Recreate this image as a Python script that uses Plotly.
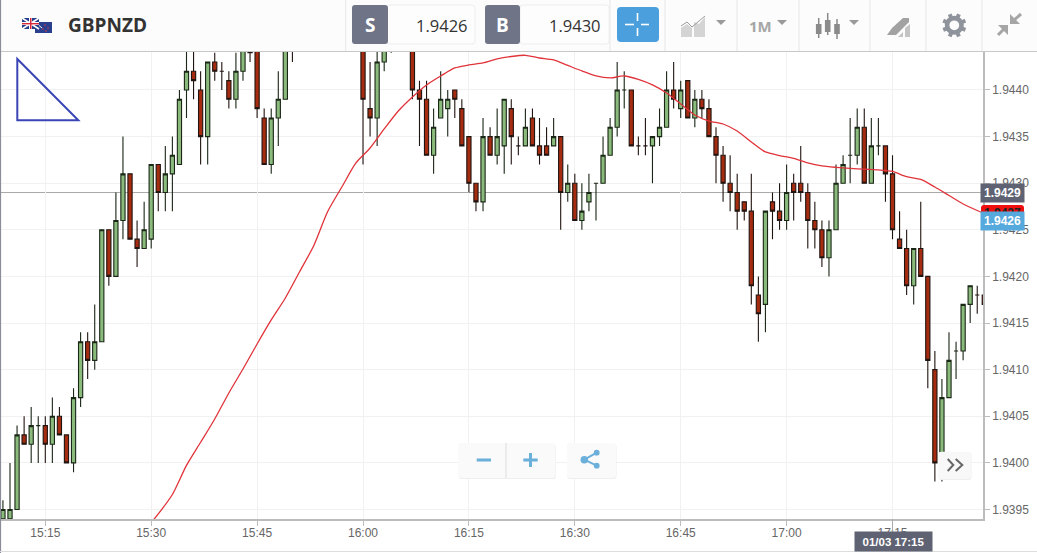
import plotly.graph_objects as go
import math

DAY = "2019-01-03 "
times = ["15:09","15:10","15:11","15:12","15:13","15:14","15:15","15:16","15:17","15:18",
 "15:19","15:20","15:21","15:22","15:23","15:24","15:25","15:26","15:27","15:28",
 "15:29","15:30","15:31","15:32","15:33","15:34","15:35","15:36","15:37","15:38",
 "15:39","15:40","15:41","15:42","15:43","15:44","15:45","15:46","15:47","15:48",
 "15:49","15:50",
 "16:00","16:01","16:02","16:03","16:04",
 "16:07","16:08","16:09","16:10","16:11","16:12","16:13","16:14",
 "16:15","16:16","16:17","16:18","16:19","16:20","16:21","16:22","16:23","16:24",
 "16:25","16:26","16:27","16:28","16:29","16:30","16:31","16:32","16:33","16:34",
 "16:35","16:36","16:37","16:38","16:39","16:40","16:41","16:42","16:43","16:44",
 "16:45","16:46","16:47","16:48","16:49","16:50","16:51","16:52","16:53","16:54",
 "16:55","16:56","16:57","16:58","16:59","17:00","17:01","17:02","17:03","17:04",
 "17:05","17:06","17:07","17:08","17:09","17:10","17:11","17:12","17:13","17:14",
 "17:15","17:16","17:17","17:18","17:19","17:20","17:21","17:22","17:23","17:24",
 "17:25","17:26","17:27","17:28"]
opens = [1.9394,1.9394,1.9395,1.9403,1.9402,1.9404,1.9404,1.9402,1.9405,1.9403,
 1.9400,1.9407,1.9413,1.9411,1.9413,1.9425,1.9420,1.9426,1.9431,1.9424,
 1.9423,1.9424,1.9432,1.9429,1.9431,1.9432,1.9440,1.9442,1.9440,1.9435,
 1.9443,1.9442,1.9441,1.9439,1.9442,1.9445,1.9446,1.9437,1.9432,1.9437,
 1.9439,1.9446,
 1.9446,1.9438,1.9437,1.9443,1.9445,
 1.9446,1.9440,1.9439,1.9433,1.9437,1.9438,1.9440,1.9438,
 1.9435,1.9430,1.9428,1.9435,1.9433,1.9434,1.9438,1.9434,1.9434,1.9437,
 1.9434,1.9434,1.9434,1.9435,1.9429,1.9430,1.9426,1.9428,1.9430,1.9430,
 1.9433,1.9436,1.9440,1.9440,1.9434,1.9434,1.9434,1.9435,1.9436,1.9440,
 1.9438,1.9441,1.9437,1.9439,1.9438,1.9435,1.9433,1.9430,1.9429,1.9428,
 1.9427,1.9418,1.9417,1.9428,1.9427,1.9426,1.9430,1.9430,1.9429,1.9426,
 1.9425,1.9422,1.9425,1.9430,1.9433,1.9433,1.9436,1.9430,1.9434,1.9434,
 1.9431,1.9424,1.9423,1.9419,1.9423,1.9420,1.9410,1.9400,1.9407,1.9412,
 1.9412,1.9417,1.9418,1.9418]
highs = [1.9396,1.9400,1.9404,1.9405,1.9406,1.9405,1.9405,1.9407,1.9406,1.9403,
 1.9408,1.9414,1.9414,1.9417,1.9425,1.9425,1.9429,1.9435,1.9431,1.9426,
 1.9428,1.9432,1.9432,1.9434,1.9435,1.9440,1.9446,1.9446,1.9442,1.9443,
 1.9444,1.9443,1.9442,1.9444,1.9446,1.9446,1.9446,1.9438,1.9438,1.9442,
 1.9446,1.9447,
 1.9447,1.9443,1.9445,1.9446,1.9446,
 1.9447,1.9441,1.9441,1.9438,1.9442,1.9440,1.9440,1.9439,
 1.9435,1.9430,1.9437,1.9436,1.9438,1.9439,1.9439,1.9435,1.9438,1.9438,
 1.9437,1.9436,1.9437,1.9435,1.9432,1.9431,1.9430,1.9431,1.9430,1.9435,
 1.9437,1.9443,1.9442,1.9440,1.9435,1.9437,1.9435,1.9438,1.9442,1.9443,
 1.9441,1.9441,1.9440,1.9440,1.9439,1.9436,1.9434,1.9433,1.9431,1.9428,
 1.9431,1.9420,1.9427,1.9429,1.9430,1.9432,1.9431,1.9434,1.9430,1.9428,
 1.9426,1.9426,1.9432,1.9433,1.9437,1.9438,1.9438,1.9437,1.9437,1.9434,
 1.9433,1.9427,1.9425,1.9423,1.9428,1.9420,1.9412,1.9409,1.9414,1.9413,
 1.9417,1.9419,1.9419,1.9418]
lows = [1.9394,1.9394,1.9395,1.9402,1.9400,1.9400,1.9400,1.9400,1.9403,1.9400,
 1.9399,1.9406,1.9409,1.9410,1.9413,1.9419,1.9420,1.9424,1.9424,1.9421,
 1.9423,1.9423,1.9427,1.9427,1.9427,1.9432,1.9437,1.9439,1.9432,1.9432,
 1.9441,1.9440,1.9438,1.9438,1.9441,1.9443,1.9437,1.9432,1.9431,1.9434,
 1.9439,1.9443,
 1.9432,1.9435,1.9434,1.9442,1.9444,
 1.9439,1.9434,1.9433,1.9431,1.9437,1.9435,1.9437,1.9434,
 1.9429,1.9427,1.9427,1.9433,1.9432,1.9431,1.9432,1.9433,1.9434,1.9434,
 1.9432,1.9433,1.9434,1.9425,1.9428,1.9426,1.9425,1.9427,1.9426,1.9430,
 1.9433,1.9435,1.9438,1.9434,1.9433,1.9433,1.9430,1.9434,1.9436,1.9438,
 1.9437,1.9437,1.9436,1.9437,1.9435,1.9430,1.9428,1.9427,1.9425,1.9426,
 1.9417,1.9413,1.9414,1.9424,1.9425,1.9425,1.9426,1.9428,1.9423,1.9423,
 1.9421,1.9420,1.9425,1.9430,1.9430,1.9432,1.9430,1.9430,1.9433,1.9428,
 1.9424,1.9423,1.9418,1.9417,1.9420,1.9408,1.9398,1.9398,1.9407,1.9409,
 1.9411,1.9415,1.9416,1.9417]
closes = [1.9395,1.9395,1.9403,1.9402,1.9404,1.9404,1.9402,1.9405,1.9403,1.9400,
 1.9407,1.9413,1.9411,1.9413,1.9425,1.9420,1.9426,1.9431,1.9424,1.9423,
 1.9425,1.9432,1.9429,1.9431,1.9433,1.9439,1.9442,1.9441,1.9435,1.9443,
 1.9442,1.9442,1.9439,1.9442,1.9445,1.9444,1.9438,1.9432,1.9437,1.9439,
 1.9445,1.9445,
 1.9439,1.9437,1.9443,1.9445,1.9445,
 1.9440,1.9439,1.9433,1.9436,1.9439,1.9439,1.9439,1.9434,
 1.9430,1.9428,1.9435,1.9433,1.9435,1.9439,1.9435,1.9434,1.9436,1.9434,
 1.9433,1.9433,1.9435,1.9429,1.9430,1.9426,1.9427,1.9429,1.9430,1.9433,
 1.9436,1.9440,1.9440,1.9434,1.9434,1.9434,1.9435,1.9436,1.9440,1.9439,
 1.9440,1.9437,1.9439,1.9438,1.9435,1.9433,1.9430,1.9429,1.9427,1.9427,
 1.9419,1.9416,1.9427,1.9427,1.9426,1.9429,1.9429,1.9429,1.9426,1.9425,
 1.9422,1.9425,1.9430,1.9432,1.9433,1.9436,1.9430,1.9434,1.9434,1.9431,
 1.9425,1.9423,1.9419,1.9423,1.9420,1.9411,1.9400,1.9407,1.9411,1.9412,
 1.9417,1.9419,1.9418,1.9417]

ma_times = ["15:30","15:31","15:33","15:35","15:37","15:39","15:41","15:43","15:45","15:47","15:49",
 "15:51","15:53","15:55","15:57","15:59","16:01","16:03","16:05","16:07","16:09",
 "16:11","16:13","16:15","16:17","16:19","16:21","16:23","16:25","16:27","16:29",
 "16:31","16:33","16:35","16:37","16:39","16:41","16:43","16:45","16:47","16:49",
 "16:51","16:53","16:55","16:57","16:59","17:01","17:03","17:05","17:07","17:09",
 "17:11","17:13","17:15","17:17","17:19","17:21","17:23","17:25","17:27","17:28"]
ma_values = [1.939360,1.939452,1.939661,1.939973,1.940221,1.940471,1.940750,1.941007,1.941275,1.941533,1.941769,
 1.942048,1.942327,1.942697,1.942959,1.943217,1.943378,1.943582,1.943775,1.943925,1.944054,
 1.944150,1.944236,1.944268,1.944290,1.944333,1.944359,1.944372,1.944343,1.944322,1.944263,
 1.944204,1.944150,1.944129,1.944150,1.944113,1.944054,1.943968,1.943850,1.943732,1.943667,
 1.943635,1.943560,1.943442,1.943335,1.943297,1.943265,1.943217,1.943185,1.943170,1.943159,
 1.943150,1.943142,1.943126,1.943070,1.943040,1.942959,1.942868,1.942777,1.942707,1.942675]

y_ticks = [1.9395,1.9400,1.9405,1.9410,1.9415,1.9420,1.9425,1.9430,1.9435,1.9440]
symbol = "GBPNZD"
sell_price = "1.9426"
buy_price = "1.9430"
crosshair_time = "17:15"
crosshair_price = 1.9429
last_price = 1.9427

W, H = 1037, 553
FONT = "Liberation Sans"
HEAD = "Open Sans"

fig = go.Figure()
fig.add_trace(go.Candlestick(
    x=[DAY + t for t in times], open=opens, high=highs, low=lows, close=closes,
    increasing=dict(line=dict(color="#1a2616", width=1.1), fillcolor="#8bbb7c"),
    decreasing=dict(line=dict(color="#201410", width=1.1), fillcolor="#a52c10"),
    whiskerwidth=0, showlegend=False, hoverinfo="skip"))
fig.add_trace(go.Scatter(
    x=[DAY + t for t in ma_times], y=ma_values, mode="lines",
    line=dict(color="#e0333a", width=1.3, shape="spline", smoothing=0.7),
    showlegend=False, hoverinfo="skip"))

shapes, notes = [], []

def S(**k):
    k.setdefault("xref", "x2"); k.setdefault("yref", "y2")
    shapes.append(k)

def rect(x0, y0, x1, y1, fill, line=None, lw=1):
    S(type="rect", x0=x0, y0=y0, x1=x1, y1=y1, fillcolor=fill,
      line=dict(color=line or fill, width=lw if line else 0))

def seg(x0, y0, x1, y1, color, lw=1):
    S(type="line", x0=x0, y0=y0, x1=x1, y1=y1, line=dict(color=color, width=lw))

def rrect(x0, y0, x1, y1, r, fill, line=None, lw=1):
    p = (f"M{x0+r},{y0} L{x1-r},{y0} Q{x1},{y0} {x1},{y0+r} L{x1},{y1-r} Q{x1},{y1} {x1-r},{y1} "
         f"L{x0+r},{y1} Q{x0},{y1} {x0},{y1-r} L{x0},{y0+r} Q{x0},{y0} {x0+r},{y0} Z")
    S(type="path", path=p, fillcolor=fill, line=dict(color=line or fill, width=lw if line else 0))

def poly(pts, fill, line=None, lw=1, close=True):
    p = "M" + " L".join(f"{a},{b}" for a, b in pts) + (" Z" if close else "")
    S(type="path", path=p, fillcolor=fill, line=dict(color=line or fill, width=lw if line else 0))

def circ(cx, cy, r, fill, line=None, lw=1):
    S(type="circle", x0=cx-r, y0=cy-r, x1=cx+r, y1=cy+r, fillcolor=fill,
      line=dict(color=line or fill, width=lw if line else 0))

def T(x, y, text, size, color, anchor="center", family=HEAD, bold=False, **k):
    notes.append(dict(xref="x2", yref="y2", x=x, y=y, text=f"<b>{text}</b>" if bold else text,
                      showarrow=False, xanchor=anchor, yanchor="middle",
                      font=dict(size=size, color=color, family=family), **k))

# crosshair (sits beneath the candles)
S(type="line", xref="paper", yref="y", x0=0, x1=983/W, y0=crosshair_price, y1=crosshair_price,
  line=dict(color="#a9a9a9", width=1), layer="below")
S(type="line", xref="x", yref="y", x0=DAY + crosshair_time, x1=DAY + crosshair_time,
  y0=1.939398, y1=1.944418, line=dict(color="#a9a9a9", width=1), layer="below")
# crosshair stub between axis and the date tag
S(type="line", xref="x", yref="y2", x0=DAY + crosshair_time, x1=DAY + crosshair_time, y0=519, y1=532,
  line=dict(color="#a9a9a9", width=1))

# drawn triangle on the chart
poly([(17.3, 59), (17.3, 120.3), (78.3, 120.3)], "rgba(0,0,0,0)", "#3a45b5", 2)

# header band
rect(0, 0, W, 51, "#fcfcfc")
seg(0, 51.5, W, 51.5, "#c8c8c8", 1)
seg(0.5, 0, 0.5, H, "#8a8d99", 1.2)
seg(0, 551.5, W, 551.5, "#dddddd", 1)
for sx in [345.7, 610, 665, 737, 799, 870, 926, 982]:
    seg(sx, 0, sx, 51, "#e6e6e6", 1)

# flags
rect(35, 22, 52, 33, "#2b3f8f")
for fx, fy in [(45, 25), (48, 28), (43, 29), (46, 31)]:
    circ(fx, fy, 0.8, "#d8404a")
seg(36, 23, 42, 28, "#ffffff", 1)
rect(22, 18, 39, 29, "#27408b")
seg(22, 18, 39, 29, "#ffffff", 1.5)
seg(39, 18, 22, 29, "#ffffff", 1.5)
rect(29, 18, 32, 29, "#ffffff")
rect(22, 22, 39, 25, "#ffffff")
rect(30, 18, 31.5, 29, "#d62a3c")
rect(22, 23, 39, 24.4, "#d62a3c")
T(66, 25, symbol, 19, "#333333", "left", bold=True)

# sell / buy boxes
rrect(387, 5, 475, 44, 3, "#fdfdfd", "#eeeeee")
rrect(352, 5, 388, 44, 3, "#6f7487")
T(369.5, 25, "S", 19, "#ffffff", bold=True)
T(470, 25, sell_price, 16.5, "#333333", "right")
rrect(520, 5, 609, 44, 3, "#fdfdfd", "#eeeeee")
rrect(485, 5, 520, 44, 3, "#6f7487")
T(502.5, 25, "B", 19, "#ffffff", bold=True)
T(603, 25, buy_price, 16.5, "#333333", "right")

# crosshair toggle
rrect(617, 7, 659, 42, 4, "#4a9fdc")
for a in [(625, 24.5, 634, 24.5), (641, 24.5, 649, 24.5), (637.5, 13, 637.5, 21), (637.5, 28, 637.5, 36)]:
    seg(*a, "#ffffff", 1.6)

# compare icon
poly([(681, 37), (681, 28), (687, 24), (692, 28), (692, 37)], "#d4d4d4")
poly([(694, 37), (694, 22), (699, 24), (705, 17), (705, 37)], "#d4d4d4")
poly([(681, 26), (687, 22), (692, 27), (699, 21), (705, 16)], "rgba(0,0,0,0)", "#9c9c9c", 1, close=False)
# dropdown carets
for tx in [721, 782, 854]:
    poly([(tx-5, 20), (tx+5, 20), (tx, 25)], "#9a9a9a")
T(760, 26, "1M", 15, "#a6a6a6", bold=True)

# candle icon
for cx, yt, yb, wt, wb in [(818.7, 24, 34, 18, 38), (827.7, 20, 32, 13, 35), (837, 24, 34, 19, 39)]:
    seg(cx, wt, cx, wb, "#8a8a8a", 1.5)
    rect(cx-2.8, yt, cx+2.8, yb, "#8a8a8a")

# pen icon
poly([(887, 35), (892, 28), (903, 18), (909, 18), (909, 22), (896, 35)], "#a2a2a2")
poly([(898, 37), (903, 32), (903, 37)], "#c4c4c4")
poly([(905, 37), (905, 28), (910, 24), (910, 37)], "#c4c4c4")

# gear icon
gx, gy = 954.3, 25.3
circ(gx, gy, 7.2, "#fcfcfc", "#8f939b", 4.6)
for i in range(8):
    a = i * math.pi / 4 + math.pi / 8
    seg(gx + 8*math.cos(a), gy + 8*math.sin(a), gx + 12*math.cos(a), gy + 12*math.sin(a), "#8f939b", 4)

# collapse arrows
poly([(1010, 14), (1010, 24), (1020, 24)], "#a6a6a6")
seg(1013, 21, 1021, 14, "#a6a6a6", 3)
poly([(1008, 25), (998, 25), (1008, 35)], "#a6a6a6")
seg(1005, 28, 998, 35, "#a6a6a6", 3)

# zoom buttons
rrect(458.5, 444, 556, 479, 3, "#eeeeee")
rrect(458, 443, 555.5, 478, 3, "#fafafa")
seg(506, 443, 506, 478, "#dddddd", 1)
seg(476.7, 460, 491, 460, "#6bafdb", 3)
seg(523.3, 460, 537.7, 460, "#6bafdb", 3)
seg(530.5, 453, 530.5, 467, "#6bafdb", 3)
rrect(567, 444, 616.5, 479, 3, "#eeeeee")
rrect(566.7, 443, 616, 478, 3, "#fafafa")
seg(584.3, 459.7, 596.7, 452.7, "#6bafdb", 2)
seg(584.3, 459.7, 596.7, 465.7, "#6bafdb", 2)
circ(584.3, 459.7, 3.8, "#6bafdb")
circ(596.7, 452.7, 2.9, "#6bafdb")
circ(596.7, 465.7, 2.9, "#6bafdb")

# next button
rrect(938.5, 452.5, 971.5, 480, 3, "#eeeeee")
rrect(938, 451.7, 971, 479, 3, "#f8f8f8")
poly([(947.7, 459), (953.3, 465), (947.7, 471)], "rgba(0,0,0,0)", "#666666", 2, close=False)
poly([(955.7, 459), (962.3, 465), (955.7, 471)], "rgba(0,0,0,0)", "#666666", 2, close=False)

# price tags
rrect(981, 205, 1024, 222, 3, "#f00f0f")
T(1002.5, 213, f"{last_price:.4f}", 12, "#222222", family=FONT, bold=True)
T(1002.5, 192.8, "1.9429", 12, "#ffffff", family=FONT, bold=True,
  bgcolor="#5e6272", width=43, height=18, borderpad=0)
T(1002.5, 220.5, sell_price, 12, "#ffffff", family=FONT, bold=True,
  bgcolor="#55a9dd", width=43, height=18, borderpad=0)
T(893.5, 541, "01/03 17:15", 11.5, "#ffffff", family=FONT, bold=True,
  bgcolor="#5e6272", width=77, height=19, borderpad=0)

fig.update_layout(
    width=W, height=H, margin=dict(l=0, r=0, t=0, b=0),
    paper_bgcolor="#ffffff", plot_bgcolor="rgba(0,0,0,0)",
    showlegend=False, boxgap=0.3, boxgroupgap=0.15,
    shapes=shapes, annotations=notes,
    xaxis=dict(domain=[0, 983/W], range=[DAY + "15:08:35", DAY + "17:27:49"], type="date",
               rangeslider=dict(visible=False), tickformat="%H:%M",
               tick0=DAY + "15:15", dtick=900000, showgrid=True, gridcolor="#f1f1f1", gridwidth=1,
               showline=True, linecolor="#bcbcbc", linewidth=1.5, ticks="outside", ticklen=5,
               tickcolor="#bcbcbc", tickfont=dict(family=FONT, size=12, color="#666666"),
               ticklabelstandoff=-3, zeroline=False, anchor="y"),
    yaxis=dict(domain=[34/H, 502/H], range=[1.939398, 1.944418], side="right",
               tickvals=y_ticks, tickformat=".4f", showgrid=True, gridcolor="#f1f1f1", gridwidth=1,
               showline=True, linecolor="#bcbcbc", linewidth=1.5, ticks="outside", ticklen=5,
               tickcolor="#bcbcbc", tickfont=dict(family=FONT, size=12, color="#666666"),
               zeroline=False, anchor="x"),
    xaxis2=dict(domain=[0, 1], range=[0, W], visible=False, anchor="y2", fixedrange=True),
    yaxis2=dict(domain=[0, 1], range=[H, 0], visible=False, anchor="x2", fixedrange=True),
)
fig.write_html("out.html", post_script="document.body.style.margin='0';",
               config={"displayModeBar": False})
